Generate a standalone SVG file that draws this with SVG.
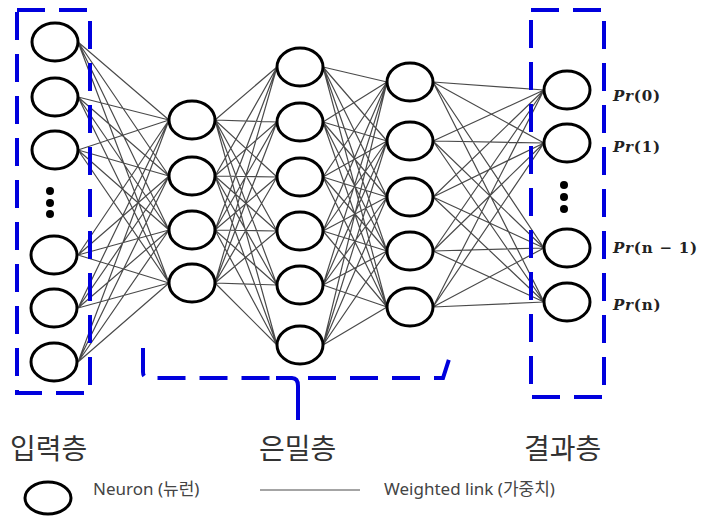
<svg xmlns="http://www.w3.org/2000/svg" width="704" height="516" viewBox="0 0 704 516">
  <style>
    .neuron { fill: #ffffff; stroke: #000000; stroke-width: 3; }
    .link { fill: none; stroke: #4a4a4a; stroke-width: 1.2; }
    .frame { fill: none; stroke: #0000dd; stroke-width: 4; stroke-dasharray: 28 14; }
    .stem { fill: none; stroke: #0000dd; stroke-width: 4; }
    .dot { fill: #000000; }
    .layer-title { font-family: "Noto Sans CJK KR", "Noto Sans", sans-serif; font-size: 28px; fill: #333333; }
    .legend { font-family: "Noto Sans", "Noto Sans CJK KR", sans-serif; font-size: 17px; fill: #444444; }
    .prob { font-family: "DejaVu Serif", "Liberation Serif", serif; font-size: 15px; font-weight: bold; letter-spacing: 0.8px; fill: #222222; }
    .prob .v { font-style: italic; }
  </style>

  <rect width="704" height="516" fill="#ffffff"/>

  <!-- weighted links, fully connected between neighbouring layers -->
  <g id="connectors">
    <path class="link" d="M78 42L169 120M78 42L169 176M78 42L169 230M78 42L169 283
      M78 97L169 120M78 97L169 176M78 97L169 230M78 97L169 283
      M78 150L169 120M78 150L169 176M78 150L169 230M78 150L169 283
      M78 255L169 120M78 255L169 176M78 255L169 230M78 255L169 283
      M78 308L169 120M78 308L169 176M78 308L169 230M78 308L169 283
      M78 362L169 120M78 362L169 176M78 362L169 230M78 362L169 283"/>
    <path class="link" d="M215 120L277 67M215 120L277 122M215 120L277 177M215 120L277 231M215 120L277 285M215 120L277 345
      M215 176L277 67M215 176L277 122M215 176L277 177M215 176L277 231M215 176L277 285M215 176L277 345
      M215 230L277 67M215 230L277 122M215 230L277 177M215 230L277 231M215 230L277 285M215 230L277 345
      M215 283L277 67M215 283L277 122M215 283L277 177M215 283L277 231M215 283L277 285M215 283L277 345"/>
    <path class="link" d="M323 67L387 82M323 67L387 141M323 67L387 197M323 67L387 251M323 67L387 307
      M323 122L387 82M323 122L387 141M323 122L387 197M323 122L387 251M323 122L387 307
      M323 177L387 82M323 177L387 141M323 177L387 197M323 177L387 251M323 177L387 307
      M323 231L387 82M323 231L387 141M323 231L387 197M323 231L387 251M323 231L387 307
      M323 285L387 82M323 285L387 141M323 285L387 197M323 285L387 251M323 285L387 307
      M323 345L387 82M323 345L387 141M323 345L387 197M323 345L387 251M323 345L387 307"/>
    <path class="link" d="M433 82L544 90M433 82L544 143M433 82L544 248M433 82L544 302
      M433 141L544 90M433 141L544 143M433 141L544 248M433 141L544 302
      M433 197L544 90M433 197L544 143M433 197L544 248M433 197L544 302
      M433 251L544 90M433 251L544 143M433 251L544 248M433 251L544 302
      M433 307L544 90M433 307L544 143M433 307L544 248M433 307L544 302"/>
  </g>

  <!-- input layer -->
  <g id="input-layer">
    <ellipse class="neuron" cx="55" cy="42" rx="23" ry="19"/>
    <ellipse class="neuron" cx="55" cy="97" rx="23" ry="19"/>
    <ellipse class="neuron" cx="55" cy="150" rx="23" ry="19"/>
    <circle class="dot" cx="50" cy="191" r="4"/>
    <circle class="dot" cx="50" cy="203" r="4"/>
    <circle class="dot" cx="50" cy="214" r="4"/>
    <ellipse class="neuron" cx="54" cy="255" rx="23" ry="19"/>
    <ellipse class="neuron" cx="54" cy="308" rx="23" ry="19"/>
    <ellipse class="neuron" cx="54" cy="362" rx="23" ry="19"/>
    <rect class="frame" x="17" y="10" width="73" height="383"/>
  </g>

  <!-- hidden layer 1 -->
  <g id="hidden-layer-1">
    <ellipse class="neuron" cx="192" cy="120" rx="23" ry="19"/>
    <ellipse class="neuron" cx="192" cy="176" rx="23" ry="19"/>
    <ellipse class="neuron" cx="192" cy="230" rx="23" ry="19"/>
    <ellipse class="neuron" cx="192" cy="283" rx="23" ry="19"/>
  </g>

  <!-- hidden layer 2 -->
  <g id="hidden-layer-2">
    <ellipse class="neuron" cx="300" cy="67" rx="23" ry="19"/>
    <ellipse class="neuron" cx="300" cy="122" rx="23" ry="19"/>
    <ellipse class="neuron" cx="300" cy="177" rx="23" ry="19"/>
    <ellipse class="neuron" cx="300" cy="231" rx="23" ry="19"/>
    <ellipse class="neuron" cx="300" cy="285" rx="23" ry="19"/>
    <ellipse class="neuron" cx="300" cy="345" rx="23" ry="19"/>
  </g>

  <!-- hidden layer 3 -->
  <g id="hidden-layer-3">
    <ellipse class="neuron" cx="410" cy="82" rx="23" ry="19"/>
    <ellipse class="neuron" cx="410" cy="141" rx="23" ry="19"/>
    <ellipse class="neuron" cx="410" cy="197" rx="23" ry="19"/>
    <ellipse class="neuron" cx="410" cy="251" rx="23" ry="19"/>
    <ellipse class="neuron" cx="410" cy="307" rx="23" ry="19"/>
  </g>

  <!-- hidden layer bracket -->
  <g id="hidden-bracket">
    <path class="frame" d="M143 348V372Q143 378 149 378H290"/>
    <path class="stem" d="M276 378H292Q298 378 298 386V420"/>
    <path class="frame" d="M308 378H443L452 350"/>
  </g>

  <!-- output layer -->
  <g id="output-layer">
    <ellipse class="neuron" cx="567" cy="90" rx="23" ry="19"/>
    <ellipse class="neuron" cx="567" cy="143" rx="23" ry="19"/>
    <circle class="dot" cx="564" cy="185" r="4"/>
    <circle class="dot" cx="564" cy="197" r="4"/>
    <circle class="dot" cx="564" cy="209" r="4"/>
    <ellipse class="neuron" cx="567" cy="248" rx="23" ry="19"/>
    <ellipse class="neuron" cx="567" cy="302" rx="23" ry="19"/>
    <rect class="frame" x="531" y="10" width="73" height="387"/>
    <text class="prob" x="613" y="101"><tspan class="v">Pr</tspan>(0)</text>
    <text class="prob" x="613" y="152"><tspan class="v">Pr</tspan>(1)</text>
    <text class="prob" x="613" y="253"><tspan class="v">Pr</tspan>(n − 1)</text>
    <text class="prob" x="613" y="310"><tspan class="v">Pr</tspan>(n)</text>
  </g>

  <!-- layer titles -->
  <g id="titles">
    <text class="layer-title" x="10" y="459">입력층</text>
    <text class="layer-title" x="259" y="459">은밀층</text>
    <text class="layer-title" x="524" y="459">결과층</text>
  </g>

  <!-- legend -->
  <g id="legend">
    <ellipse class="neuron" cx="48" cy="498" rx="23" ry="16"/>
    <text class="legend" x="93" y="495">Neuron (뉴런)</text>
    <line class="link" x1="260" y1="490" x2="360" y2="490"/>
    <text class="legend" x="384" y="495">Weighted link (가중치)</text>
  </g>
</svg>
